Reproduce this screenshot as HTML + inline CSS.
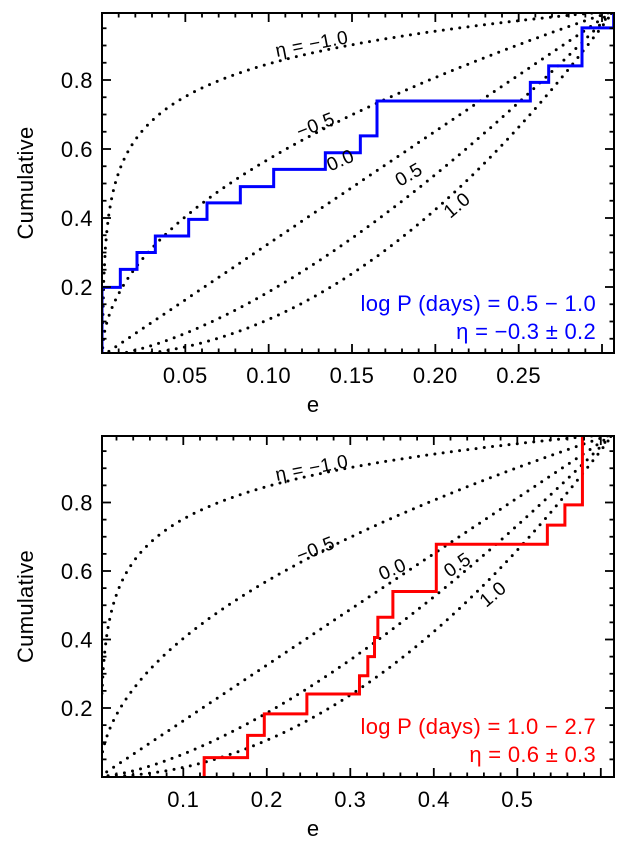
<!DOCTYPE html>
<html><head><meta charset="utf-8"><style>
html,body{margin:0;padding:0;background:#fff;}
svg{display:block;font-family:"Liberation Sans",sans-serif;}
</style></head><body>
<svg id="chart" width="627" height="845" viewBox="0 0 627 845" xmlns="http://www.w3.org/2000/svg"></svg>
<script>
// ---- data ----
const etaValues = [-1.0, -0.5, 0.0, 0.5, 1.0];
const topStepE = [0, 0.011, 0.021, 0.032, 0.052, 0.063, 0.083, 0.103, 0.134, 0.155, 0.165, 0.257, 0.268, 0.288, 0.307];
const topStepF = [0.199, 0.251, 0.300, 0.348, 0.396, 0.444, 0.491, 0.541, 0.589, 0.638, 0.739, 0.793, 0.841, 0.951, 1.0];
const botStepE = [0.125, 0.177, 0.197, 0.248, 0.311, 0.321, 0.329, 0.333, 0.351, 0.403, 0.536, 0.557, 0.578];
const botStepF = [0.055, 0.120, 0.183, 0.241, 0.294, 0.350, 0.406, 0.465, 0.540, 0.678, 0.734, 0.793, 1.0];
const topXTicks = [0.05, 0.10, 0.15, 0.20, 0.25];
const topXTickLabels = ["0.05", "0.10", "0.15", "0.20", "0.25"];
const botXTicks = [0.1, 0.2, 0.3, 0.4, 0.5];
const botXTickLabels = ["0.1", "0.2", "0.3", "0.4", "0.5"];
const yTicks = [0.2, 0.4, 0.6, 0.8];
const yTickLabels = ["0.2", "0.4", "0.6", "0.8"];

const NS = "http://www.w3.org/2000/svg";
const svg = document.getElementById('chart');
function mk(tag, attrs, parent) {
  const el = document.createElementNS(NS, tag);
  for (const k in attrs) el.setAttribute(k, attrs[k]);
  (parent || svg).appendChild(el);
  return el;
}

function panel(cfg) {
  const g = mk('g', {});
  
  
  const L = 102, R = 614, T = cfg.top, B = cfg.bottom;
  const sx = v => cfg.x0 + v * cfg.kx;
  const sy = v => cfg.y0 - v * cfg.ky;
  const xmax = (R - cfg.x0) / cfg.kx;
  const ymax = (cfg.y0 - T) / cfg.ky;
  const clipId = 'clip-' + cfg.name;
  const defs = mk('defs', {}, g);
  const cp = mk('clipPath', { id: clipId }, defs);
  mk('rect', { x: L, y: T, width: R - L, height: B - T }, cp);

  const cg = mk('g', { 'clip-path': 'url(#' + clipId + ')' }, g);
  const emax = cfg.emax;
  etaValues.forEach((eta) => {
    let d = '';
    for (let i = 0; i <= 300; i++) {
      const e = emax * i / 300;
      let F;
      if (eta === -1) {
        const emin = emax / 1500;
        F = e <= emin ? 0 : Math.log(e / emin) / Math.log(emax / emin);
      } else {
        F = Math.pow(e / emax, eta + 1);
      }
      d += (i ? 'L' : 'M') + sx(e).toFixed(2) + ' ' + sy(F).toFixed(2);
    }
    const p = mk('path', { d: d, fill: 'none', stroke: '#000', 'stroke-width': 3, 'stroke-linecap': 'round', 'stroke-dasharray': '0 8.3' }, cg);
    
    
  });

  let d = 'M' + sx(cfg.stepE[0]) + ' ' + sy(0);
  for (let i = 0; i < cfg.stepE.length; i++) {
    d += 'L' + sx(cfg.stepE[i]) + ' ' + sy(cfg.stepF[i]);
    if (i + 1 < cfg.stepE.length) d += 'L' + sx(cfg.stepE[i + 1]) + ' ' + sy(cfg.stepF[i]);
  }
  const sp = mk('path', { d: d, fill: 'none', stroke: cfg.color, 'stroke-width': 3 }, cg);
  
  

  const fr = mk('rect', { x: L, y: T, width: R - L, height: B - T, fill: 'none', stroke: '#000', 'stroke-width': 2 }, g);
  
  

  const tg = mk('g', { stroke: '#000', 'stroke-width': 1.8 }, g);
  for (let k = 1; cfg.xMinor * k < xmax; k++) {
    const v = cfg.xMinor * k;
    const major = Math.abs((v / cfg.xMajor) - Math.round(v / cfg.xMajor)) < 1e-6;
    const len = major ? 9 : 4.5;
    const x = sx(v);
    if (x <= L + 1) continue;
    mk('line', { x1: x, y1: B, x2: x, y2: B - len }, tg);
    mk('line', { x1: x, y1: T, x2: x, y2: T + len }, tg);
  }
  for (let k = 1; 0.05 * k < ymax; k++) {
    const v = 0.05 * k;
    const major = k % 4 === 0;
    const len = major ? 9 : 4.5;
    const y = sy(v);
    mk('line', { x1: L, y1: y, x2: L + len, y2: y }, tg);
    mk('line', { x1: R, y1: y, x2: R - len, y2: y }, tg);
  }
  cfg.xTicks.forEach((v, i) => {
    const t = mk('text', { x: sx(v), y: B + 30, 'font-size': 22, 'letter-spacing': 0.5, 'text-anchor': 'middle', fill: '#000' }, g);
    t.textContent = cfg.xLabels[i];
    
    
  });
  yTicks.forEach((v, i) => {
    const t = mk('text', { x: 93, y: sy(v) + 8, 'font-size': 22, 'letter-spacing': 0.5, 'text-anchor': 'end', fill: '#000' }, g);
    t.textContent = yTickLabels[i];
    
    
  });
  const xt = mk('text', { x: 313, y: B + 59, 'font-size': 22, 'text-anchor': 'middle', fill: '#000' }, g);
  xt.textContent = 'e';
  
  
  const ym = (T + B) / 2;
  const yt = mk('text', { x: 33, y: ym, 'font-size': 22, 'letter-spacing': 0.3, 'text-anchor': 'middle', fill: '#000', transform: 'rotate(-90 33 ' + ym + ')' }, g);
  yt.textContent = 'Cumulative';
  
  

  cfg.curveLabels.forEach(c => {
    const t = mk('text', { x: c[1], y: c[2], 'font-size': 19, 'letter-spacing': 0.5, 'text-anchor': 'middle', fill: '#000', transform: 'rotate(' + c[3] + ' ' + c[1] + ' ' + c[2] + ')' }, g);
    t.textContent = c[0];
    
    
  });

  cfg.legend.forEach((s, i) => {
    const t = mk('text', { x: 596, y: cfg.legendY[i], 'font-size': 22, 'letter-spacing': 0.3, 'text-anchor': 'end', fill: cfg.color }, g);
    t.textContent = s;
    
    
  });
}

panel({
  name: 'top-panel', top: 13, bottom: 353, x0: 102, kx: 1666.7, y0: 356, ky: 345, emax: 0.307,
  xMinor: 0.01, xMajor: 0.05, xTicks: topXTicks, xLabels: topXTickLabels,
  stepE: topStepE, stepF: topStepF, color: '#0000ff',
  legend: ['log P (days) = 0.5 \u2212 1.0', '\u03b7 = \u22120.3 \u00b1 0.2'], legendY: [311, 339],
  curveLabels: [['\u03b7 = \u22121.0', 313, 50, -11], ['\u22120.5', 318, 131, -22], ['0.0', 343, 166, -24], ['0.5', 412, 180, -30], ['1.0', 461, 210, -40]]
});
panel({
  name: 'bottom-panel', top: 436, bottom: 777, x0: 99.8, kx: 835, y0: 776.5, ky: 342.5, emax: 0.615,
  xMinor: 0.02, xMajor: 0.1, xTicks: botXTicks, xLabels: botXTickLabels,
  stepE: botStepE, stepF: botStepF, color: '#ff0000',
  legend: ['log P (days) = 1.0 \u2212 2.7', '\u03b7 = 0.6 \u00b1 0.3'], legendY: [734, 762],
  curveLabels: [['\u03b7 = \u22121.0', 313, 474, -11], ['\u22120.5', 318, 555, -22], ['0.0', 395, 575, -24], ['0.5', 461, 570, -35], ['1.0', 497, 599, -40]]
});
</script>
</body></html>
